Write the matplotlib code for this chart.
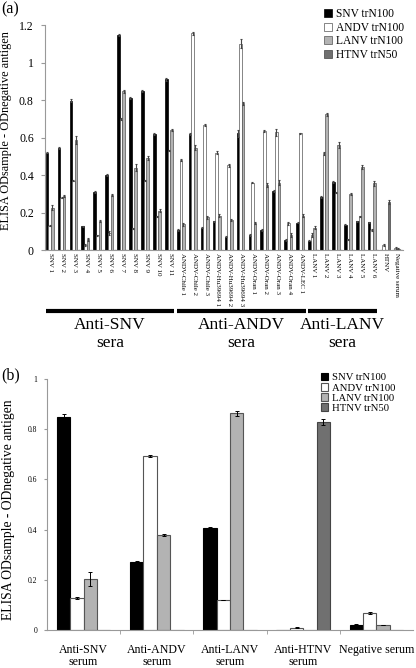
import matplotlib
matplotlib.use("Agg")
import matplotlib.pyplot as plt
import numpy as np
from matplotlib.transforms import blended_transform_factory

plt.rcParams['font.family'] = ['Liberation Serif', 'DejaVu Serif']

# ---- panel (a) data ----
sera_a = ["SNV 1", "SNV 2", "SNV 3", "SNV 4", "SNV 5", "SNV 6", "SNV 7", "SNV 8",
          "SNV 9", "SNV 10", "SNV 11", "ANDV-Chile 1", "ANDV-Chile 2", "ANDV-Chile 3",
          "ANDV-Hu39694 1", "ANDV-Hu39694 2", "ANDV-Hu39694 3", "ANDV-Oran 1",
          "ANDV-Oran 2", "ANDV-Oran 3", "ANDV-Oran 4", "ANDV-LEC 1", "LANV 1",
          "LANV 2", "LANV 3", "LANV 4", "LANV 5", "LANV 6", "HTNV", "Negative serum"]
snv_a = [0.52, 0.545, 0.795, 0.126, 0.31, 0.40, 1.147, 0.81, 0.85, 0.62, 0.91,
         0.107, 0.617, 0.12, 0.153, 0.071, 0.622, 0.08, 0.107, 0.315, 0.053, 0.146,
         0.05, 0.284, 0.364, 0.135, 0.153, 0.148, 0.0, 0.0]
andv_a = [0.13, 0.28, 0.37, 0.027, 0.078, 0.09, 0.70, 0.115, 0.37, 0.18, 0.53,
          0.48, 1.155, 0.668, 0.52, 0.453, 1.10, 0.36, 0.635, 0.628, 0.142, 0.622,
          0.08, 0.516, 0.306, 0.057, 0.18, 0.107, 0.027, 0.012]
lanv_a = [0.226, 0.29, 0.587, 0.057, 0.156, 0.295, 0.848, 0.44, 0.49, 0.21, 0.64,
          0.137, 0.546, 0.176, 0.183, 0.16, 0.782, 0.146, 0.347, 0.36, 0.08, 0.183,
          0.12, 0.724, 0.56, 0.297, 0.444, 0.356, 0.0, 0.008]
htnv_a = [0, 0, 0, 0, 0, 0, 0, 0, 0, 0, 0, 0, 0, 0, 0, 0, 0, 0, 0, 0, 0, 0,
          0, 0, 0, 0, 0, 0, 0.258, 0.0]
snv_a_err = [0.005, 0.006, 0.008, 0.004, 0.004, 0.005, 0.006, 0.006, 0.006, 0.004, 0.008,
             0.004, 0.005, 0.004, 0.004, 0.004, 0.02, 0.004, 0.004, 0.006, 0.004, 0.004,
             0.004, 0.006, 0.006, 0.004, 0.004, 0.004, 0.0, 0.0]
andv_a_err = [0.004, 0.004, 0.004, 0.004, 0.004, 0.012, 0.004, 0.004, 0.004, 0.004, 0.004,
              0.004, 0.006, 0.006, 0.006, 0.008, 0.025, 0.004, 0.006, 0.02, 0.01, 0.004,
              0.01, 0.008, 0.004, 0.004, 0.004, 0.004, 0.004, 0.004]
lanv_a_err = [0.012, 0.006, 0.02, 0.008, 0.006, 0.006, 0.008, 0.02, 0.012, 0.008, 0.006,
              0.008, 0.015, 0.008, 0.008, 0.006, 0.008, 0.006, 0.01, 0.015, 0.01, 0.008,
              0.006, 0.008, 0.015, 0.006, 0.01, 0.012, 0.0, 0.004]
htnv_a_err = [0, 0, 0, 0, 0, 0, 0, 0, 0, 0, 0, 0, 0, 0, 0, 0, 0, 0, 0, 0, 0, 0,
              0, 0, 0, 0, 0, 0, 0.01, 0.0]
brackets = [("Anti-SNV\nsera", 0, 10), ("Anti-ANDV\nsera", 11, 21), ("Anti-LANV\nsera", 22, 27)]

# ---- panel (b) data ----
sera_b = ["Anti-SNV\nserum", "Anti-ANDV\nserum", "Anti-LANV\nserum",
          "Anti-HTNV\nserum", "Negative serum"]
snv_b = [0.848, 0.27, 0.405, 0.0, 0.02]
andv_b = [0.129, 0.695, 0.12, 0.009, 0.066]
lanv_b = [0.203, 0.38, 0.864, 0.0, 0.02]
htnv_b = [0.0, 0.0, 0.0, 0.827, 0.0]
snv_b_err = [0.012, 0.006, 0.004, 0.0, 0.004]
andv_b_err = [0.004, 0.004, 0.0, 0.003, 0.004]
lanv_b_err = [0.028, 0.004, 0.01, 0.0, 0.0]
htnv_b_err = [0.0, 0.0, 0.0, 0.012, 0.0]

series_names = ["SNV trN100", "ANDV trN100", "LANV trN100", "HTNV trN50"]
face = ["black", "white", "#b3b3b3", "#707070"]
edge = ["black", "#555555", "#555555", "#444444"]
ylabel = "ELISA ODsample - ODnegative antigen"


def style_axes(ax):
    for s in ("top", "right"):
        ax.spines[s].set_visible(False)
    for s in ("left", "bottom"):
        ax.spines[s].set_color("#999999")
        ax.spines[s].set_linewidth(0.8)


def main():
    fig = plt.figure(figsize=(4.16, 6.68), dpi=100)

    # ---------------- (a) ----------------
    ax = fig.add_axes([0.108, 0.6257, 0.8606, 0.3368])
    x = np.arange(len(sera_a))
    w = 0.22
    vals = [snv_a, andv_a, lanv_a, htnv_a]
    errs = [snv_a_err, andv_a_err, lanv_a_err, htnv_a_err]
    for i in range(4):
        ax.bar(x + (i - 1.5) * w, vals[i], w, color=face[i], edgecolor=edge[i],
               linewidth=0.5, label=series_names[i],
               yerr=errs[i], error_kw=dict(ecolor="#444444", elinewidth=0.8,
                                           capsize=1, capthick=0.8))
    ax.set_xlim(-0.5, len(sera_a) - 0.5)
    ax.set_ylim(0, 1.2)
    ax.set_yticks([0, 0.2, 0.4, 0.6, 0.8, 1.0, 1.2])
    ax.set_yticklabels(["0", "0.2", "0.4", "0.6", "0.8", "1", "1.2"], fontsize=8.5)
    ax.tick_params(axis="y", length=3, color="#999999", pad=5)
    ax.set_xticks(x)
    ax.set_xticklabels(sera_a, rotation=270, fontsize=5, ha="center", va="top")
    ax.tick_params(axis="x", length=0, pad=2)
    style_axes(ax)
    ax.set_ylabel(ylabel, fontsize=8.8)
    ax.yaxis.set_label_coords(-0.092, 0.53)
    ax.legend(loc="upper left", bbox_to_anchor=(324 / 416, 1 - 8 / 668),
              bbox_transform=fig.transFigure, frameon=False, fontsize=8.3,
              handlelength=0.7, handleheight=0.7, handletextpad=0.3,
              labelspacing=0.15, borderpad=0, borderaxespad=0)

    trans = blended_transform_factory(ax.transData, ax.transAxes)
    for text, first, last in brackets:
        x0, x1 = first - 0.45, last + 0.35
        ax.plot([x0, x1], [-0.271, -0.271], color="black", lw=3.0,
                solid_capstyle="butt", transform=trans, clip_on=False)
        ax.text((x0 + x1) / 2, -0.298, text, transform=trans, ha="center",
                va="top", fontsize=12.5, linespacing=1.2)

    fig.text(0.004, 1 - 1 / 668, "(a)", fontsize=11.5, va="top", ha="left")

    # ---------------- (b) ----------------
    bx = fig.add_axes([0.113, 0.0569, 0.8798, 0.3757])
    xb = np.arange(len(sera_b))
    wb = 0.183
    vals = [snv_b, andv_b, lanv_b, htnv_b]
    errs = [snv_b_err, andv_b_err, lanv_b_err, htnv_b_err]
    for i in range(4):
        bx.bar(xb + (i - 1.5) * wb, vals[i], wb, color=face[i], edgecolor=edge[i],
               linewidth=0.8, label=series_names[i],
               yerr=errs[i], error_kw=dict(ecolor="black", elinewidth=0.7,
                                           capsize=1.2, capthick=0.7))
    bx.set_xlim(-0.5, len(sera_b) - 0.5)
    bx.set_ylim(0, 1.0)
    bx.set_yticks([0, 0.2, 0.4, 0.6, 0.8, 1.0])
    bx.set_yticklabels(["0", "0.2", "0.4", "0.6", "0.8", "1"], fontsize=5.5)
    bx.tick_params(axis="y", length=2, color="#999999", pad=5)
    bx.set_xticks(xb)
    bx.set_xticklabels(sera_b, fontsize=8.6, linespacing=1.05)
    bx.tick_params(axis="x", which="major", length=0, pad=10)
    bx.set_xticks(xb[:-1] + 0.5, minor=True)
    bx.tick_params(axis="x", which="minor", length=3, color="#999999")
    style_axes(bx)
    bx.set_ylabel(ylabel, fontsize=9.8)
    bx.yaxis.set_label_coords(-0.087, 0.478)
    bx.legend(loc="upper left", bbox_to_anchor=(321 / 416, 1 - 373 / 668),
              bbox_transform=fig.transFigure, frameon=False, fontsize=7.7,
              handlelength=0.7, handleheight=0.7, handletextpad=0.3,
              labelspacing=0.05, borderpad=0, borderaxespad=0)

    fig.text(0.004, 1 - 367 / 668, "(b)", fontsize=11.5, va="top", ha="left")

    fig.savefig("out.png", dpi=100)


if __name__ == "__main__":
    main()
